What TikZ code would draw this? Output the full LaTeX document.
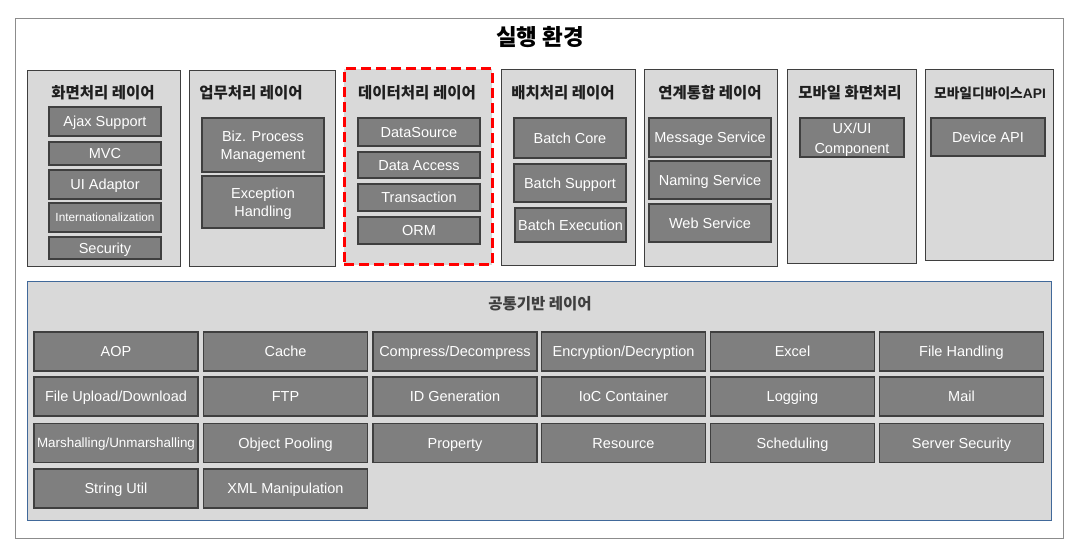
\documentclass[tikz,border=0pt]{standalone}
\usepackage{fontspec}
\setmainfont{Liberation Sans}
\newfontfamily\kr{Noto Sans CJK KR}
\definecolor{itemgray}{HTML}{7F7F7F}
\definecolor{layergray}{HTML}{D9D9D9}
\definecolor{edgegray}{HTML}{3F3F3F}
\definecolor{framegray}{HTML}{8C8C8C}
\definecolor{blueedge}{HTML}{41699A}
\definecolor{titlecol}{HTML}{1F1F1F}
\newcommand\ibox[6]{\node[item, minimum width=#4pt, minimum height=#5pt] (#1) at (#2,#3) {#6};}
\newcommand\lbox[5]{\node[layer, minimum width=#4pt, minimum height=#5pt] (#1) at (#2,#3) {};}
\begin{document}
\begin{tikzpicture}[x=1pt,y=-1pt,
  frame/.style={draw=framegray, fill=white, line width=1pt, inner sep=0pt},
  layer/.style={draw=edgegray, fill=layergray, line width=0.9pt, inner sep=0pt},
  itembase/.style={draw=edgegray, fill=itemgray, line width=1.2pt, text=white, inner sep=0pt, align=center, font=\fontsize{14.5}{18}\selectfont},
  item/.style={itembase, text height=12pt, text depth=1.6pt},
  wtext/.style={text=white, inner sep=0pt, align=center, font=\fontsize{14.5}{20}\selectfont},
  ltitle/.style={text=titlecol, font=\kr\bfseries\fontsize{15.5}{17}\selectfont, inner sep=0pt},
  smallitem/.style={font=\fontsize{11.8}{14}\selectfont, text height=10.2pt, text depth=1.2pt},
  reddash/.style={draw=red, line width=3pt, dash pattern=on 10pt off 5pt}
]
\useasboundingbox (0,0) rectangle (1079,553);
% outer frame
\node[frame, minimum width=1048pt, minimum height=519pt] (outer) at (539,278.5) {};
\node[text=black, font=\kr\bfseries\fontsize{22.5}{24}\selectfont, inner sep=0pt] (title) at (540,37) {실행 환경};

% top layers
\lbox{l1}{103.5}{168}{153}{196}
\lbox{l2}{262}{168}{146}{196}
\node[layer, reddash, minimum width=148pt, minimum height=196pt] (l3) at (418,167) {};
\lbox{l4}{568}{167}{134}{196}
\lbox{l5}{710.5}{167.5}{133}{197}
\lbox{l6}{851.5}{166}{129}{194}
\lbox{l7}{989}{164.5}{128}{191}

\node[ltitle] (t1) at (103,93) {화면처리 레이어};
\node[ltitle] (t2) at (251,93) {업무처리 레이어};
\node[ltitle] (t3) at (417,93) {데이터처리 레이어};
\node[ltitle] (t4) at (563,93) {배치처리 레이어};
\node[ltitle] (t5) at (710,93) {연계통합 레이어};
\node[ltitle] (t6) at (850,93) {모바일 화면처리};
\node[text=titlecol, inner sep=0pt] (t7) at (990,93) {{\kr\bfseries\fontsize{13.8}{15}\selectfont 모바일디바이스}{\bfseries\fontsize{13.8}{15}\selectfont API}};

% layer 1 items
\ibox{ajax}{105}{121.5}{112}{29}{Ajax Support}
\ibox{mvc}{105}{153.5}{112}{23}{MVC}
\ibox{uiad}{105}{184.5}{112}{29}{UI Adaptor}
\node[item, smallitem, minimum width=112pt, minimum height=29pt] (intl) at (105,217.5) {Internationalization};
\ibox{sec}{105}{248}{112}{22}{Security}
% layer 2 items
\node[itembase, minimum width=122pt, minimum height=54pt] (biz) at (263,145) {};
\node[wtext, font=\fontsize{14.5}{18}\selectfont] (bizt) at (263,147) {Biz. Process\\Management};
\node[itembase, minimum width=122pt, minimum height=52pt] (exc) at (263,202) {};
\node[wtext, font=\fontsize{14.5}{18}\selectfont] (exct) at (263,204) {Exception\\Handling};
% layer 3 items
\ibox{dsrc}{419}{132}{122}{28}{DataSource}
\ibox{dacc}{419}{165}{122}{26}{Data Access}
\ibox{trx}{419}{197.5}{122}{27}{Transaction}
\ibox{orm}{419}{230.5}{122}{27}{ORM}
% layer 4 items
\ibox{bcore}{570}{138}{112}{40}{Batch Core}
\ibox{bsup}{570}{183}{112}{38}{Batch Support}
\ibox{bexe}{570.5}{225}{111}{34}{Batch Execution}
% layer 5 items
\ibox{msg}{710}{137.5}{122}{39}{Message Service}
\ibox{nam}{710}{180}{122}{38}{Naming Service}
\ibox{web}{710}{223}{122}{38}{Web Service}
% layer 6 item
\node[itembase, minimum width=104pt, minimum height=39pt] (uxui) at (852,137.5) {};
\node[wtext] (uxuit) at (852,140) {UX/UI\\Component};
% layer 7 item
\ibox{dev}{988}{137}{114}{38}{Device API}

% bottom layer
\node[layer, draw=blueedge, minimum width=1024pt, minimum height=239pt] (common) at (539,400.5) {};
\node[ltitle, text=edgegray] (tc) at (540,304) {공통기반 레이어};

% grid row 1
\ibox{aop}{116}{351.5}{164}{39}{AOP}
\ibox{cache}{285.5}{351.5}{164}{39}{Cache}
\ibox{comp}{455}{351.5}{164}{39}{Compress/Decompress}
\ibox{encr}{623.5}{351.5}{164}{39}{Encryption/Decryption}
\ibox{excel}{792.5}{351.5}{164}{39}{Excel}
\ibox{fileh}{961.5}{351.5}{164}{39}{File Handling}
% grid row 2
\ibox{fup}{116}{396.5}{164}{39}{File Upload/Download}
\ibox{ftp}{285.5}{396.5}{164}{39}{FTP}
\ibox{idg}{455}{396.5}{164}{39}{ID Generation}
\ibox{ioc}{623.5}{396.5}{164}{39}{IoC Container}
\ibox{log}{792.5}{396.5}{164}{39}{Logging}
\ibox{mail}{961.5}{396.5}{164}{39}{Mail}
% grid row 3
\node[item, font=\fontsize{13.4}{16}\selectfont, text height=11.2pt, text depth=1.5pt, minimum width=164pt, minimum height=39pt] (marsh) at (116,443) {Marshalling/Unmarshalling};
\ibox{objp}{285.5}{443}{164}{39}{Object Pooling}
\ibox{prop}{455}{443}{164}{39}{Property}
\ibox{res}{623.5}{443}{164}{39}{Resource}
\ibox{sched}{792.5}{443}{164}{39}{Scheduling}
\ibox{ssec}{961.5}{443}{164}{39}{Server Security}
% grid row 4
\ibox{stru}{116}{488.5}{164}{39}{String Util}
\ibox{xml}{285.5}{488.5}{164}{39}{XML Manipulation}
\end{tikzpicture}
\end{document}
